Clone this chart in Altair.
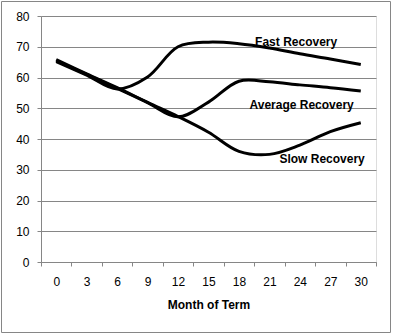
import altair as alt
import pandas as pd

months = [0, 3, 6, 9, 12, 15, 18, 21, 24, 27, 30]
fast = [65.2, 60.8, 56.3, 60.2, 70.0, 71.5, 71.0, 69.6, 67.7, 66.0, 64.2]
average = [65.5, 61.0, 56.5, 51.8, 47.2, 52.0, 58.8, 58.6, 57.6, 56.7, 55.6]
slow = [65.8, 61.2, 56.7, 51.9, 47.3, 42.2, 36.0, 35.0, 38.0, 42.4, 45.3]
series_names = ["Fast Recovery", "Average Recovery", "Slow Recovery"]

label_month = [24, 24, 27]
label_value = [71.7, 51.1, 33.5]
label_dx = [11.5, 17, 7]

rows = []
for name, vals in zip(series_names, [fast, average, slow]):
    for m, v in zip(months, vals):
        rows.append({"month": m, "value": v, "series": name})
df = pd.DataFrame(rows)

lab = pd.DataFrame({"month": label_month, "value": label_value,
                    "text": series_names, "dx": label_dx})

GRID = "#868686"
FONT = "Liberation Sans"

x_enc = alt.X("month:O", scale=alt.Scale(type="band", paddingInner=0, paddingOuter=0),
              bandPosition=0.5,
              axis=alt.Axis(title="Month of Term", labelAngle=0, tickBand="extent",
                            tickSize=4, labelPadding=10, tickColor=GRID, domainColor=GRID,
                            labelFontSize=12, labelFont=FONT, labelColor="#000000",
                            titleFont=FONT, titleFontSize=12, titleFontWeight="bold",
                            titleColor="#000000", titlePadding=12, grid=False))
y_enc = alt.Y("value:Q", scale=alt.Scale(domain=[0, 80], nice=False),
              axis=alt.Axis(title=None, values=list(range(0, 81, 10)), tickSize=4,
                            labelPadding=8, tickColor=GRID, domainColor=GRID,
                            gridColor=GRID, labelFontSize=12, labelFont=FONT,
                            labelColor="#000000", labelOverlap=False))

lines = alt.Chart(df).mark_line(color="black", strokeWidth=3, interpolate="catmull-rom").encode(
    x=x_enc, y=y_enc, detail="series:N"
)

texts = alt.Chart(lab).mark_text(font=FONT, fontSize=12, fontWeight="bold", color="black",
                                 baseline="middle", align="center").encode(
    x=x_enc, y=y_enc, text="text:N", xOffset=alt.XOffset("dx:Q", scale=None)
)

border = alt.Chart(pd.DataFrame({"a": [0]})).mark_rect(fill=None, stroke=GRID, strokeWidth=1).encode(
    x=alt.value(-39.5), x2=alt.value(349.5), y=alt.value(-14.5), y2=alt.value(316.5)
)

chart = alt.layer(border, lines, texts).properties(
    width=335, height=246,
    autosize=alt.AutoSizeParams(type="none"),
    padding={"left": 41, "top": 16, "right": 17, "bottom": 73},
).configure_view(stroke=None).configure(background="white")

chart.save("out.html", embed_options={"renderer": "svg", "actions": False})
